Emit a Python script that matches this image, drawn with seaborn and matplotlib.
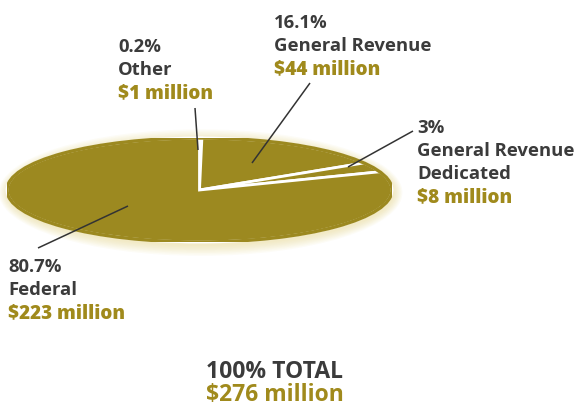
import matplotlib
matplotlib.use("Agg")
import matplotlib.pyplot as plt
from matplotlib.patches import Ellipse
import seaborn as sns

sns.set_theme(style="white")
plt.rcParams["font.family"] = ["Open Sans", "DejaVu Sans"]

# Funding sources (clockwise from 12 o'clock)
sources = ["Other", "General Revenue", "General Revenue\nDedicated", "Federal"]
percents = [0.2, 16.1, 3, 80.7]
millions = [1, 44, 8, 223]
total_pct = 100
total_millions = 276

OLIVE = "#9c8920"
GOLD = "#a08a1c"
DARK = "#3b3b3b"

W, H = 584, 413
fig = plt.figure(figsize=(W / 100, H / 100), dpi=100)
fig.patch.set_facecolor("white")

# Flattened pie: its own axes stretched over the ellipse's bounding box
cx, cy, rx, ry = 199.5, 190, 192.5, 52
ax_pie = fig.add_axes([(cx - rx) / W, (H - cy - ry) / H, 2 * rx / W, 2 * ry / H])

# soft glow around the disc, a little heavier below
for k in range(8, 0, -1):
    grow = 0.012 * k
    ax_pie.add_patch(Ellipse((0.006, -0.05), 2 + grow, 2 + grow * 4.5,
                             facecolor="#e9d88c", edgecolor="none",
                             alpha=0.075, zorder=0, clip_on=False))

pal = sns.color_palette([OLIVE] * len(percents))
ax_pie.pie(percents, colors=pal, startangle=90, counterclock=False,
           radius=1, frame=True,
           wedgeprops=dict(edgecolor="white", linewidth=2.0, zorder=2))
# hide the white stroke on the outer rim
ax_pie.add_patch(Ellipse((0, 0), 2, 2, facecolor="none", edgecolor=OLIVE,
                         linewidth=2.4, zorder=3))
ax_pie.set_aspect("auto")
ax_pie.set_xlim(-1, 1)
ax_pie.set_ylim(-1, 1)
ax_pie.axis("off")

# Overlay in pixel space for labels and leader lines
ax = fig.add_axes([0, 0, 1, 1])
ax.set_xlim(0, W)
ax.set_ylim(H, 0)
ax.axis("off")
ax.patch.set_alpha(0)

FS = 13.3

def label(x, y, pct, name, amount):
    lines = [f"{pct:g}%"] + name.split("\n")
    for i, t in enumerate(lines):
        ax.text(x, y + 23 * i, t, fontsize=FS, color=DARK, fontweight="bold",
                va="baseline", ha="left")
    ax.text(x, y + 23 * len(lines), f"${amount} million", fontsize=13.6,
            color=GOLD, fontweight="heavy", va="baseline", ha="left")

label(118, 52, percents[0], sources[0], millions[0])
label(274, 28, percents[1], sources[1], millions[1])
label(417, 133, percents[2], sources[2], millions[2])
label(8, 272, percents[3], sources[3], millions[3])

# leader lines
leaders = [((195, 108), (198, 150)),
           ((310, 83), (252, 163)),
           ((413, 131), (348, 167)),
           ((38, 248), (128, 206))]
for (x0, y0), (x1, y1) in leaders:
    ax.plot([x0, x1], [y0, y1], color="#333333", lw=1.1, solid_capstyle="butt")

ax.text(275, 378, f"{total_pct}% TOTAL", fontsize=16.5, color=DARK,
        fontweight="bold", ha="center", va="baseline")
ax.text(275, 401, f"${total_millions} million", fontsize=16.5, color=GOLD,
        fontweight="bold", ha="center", va="baseline")

fig.savefig("out.png", dpi=100, facecolor="white")
